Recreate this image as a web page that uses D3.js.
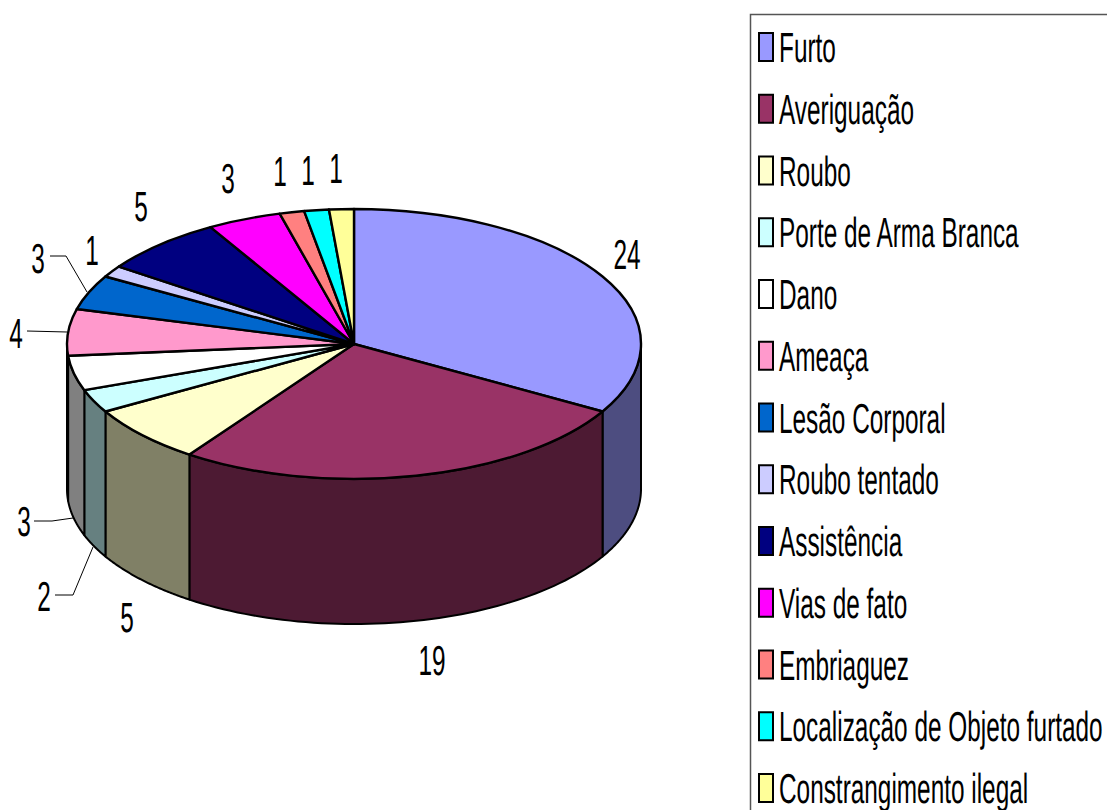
<!DOCTYPE html>
<html><head><meta charset="utf-8">
<script src="https://cdn.jsdelivr.net/npm/d3@7"></script>
<style>html,body{margin:0;padding:0;background:#fff;overflow:hidden}svg{display:block}
text{font-family:"Liberation Sans",Arial,sans-serif;font-size:42px;fill:#000;text-rendering:geometricPrecision}</style></head>
<body><svg id="c" width="1107" height="810"></svg>
<script>
const categories = ["Furto","Averiguação","Roubo","Porte de Arma Branca","Dano","Ameaça","Lesão Corporal","Roubo tentado","Assistência","Vias de fato","Embriaguez","Localização de Objeto furtado","Constrangimento ilegal"];
const values = [24,19,5,2,3,4,3,1,5,3,1,1,1];
const colors = ["#9999ff","#993366","#ffffcc","#ccffff","#ffffff","#ff99cc","#0066cc","#ccccff","#000080","#ff00ff","#ff8080","#00ffff","#ffff99"];
// layout only (label centres and leader lines, in page pixels)
const labelCentres = [[627,254],[432,660],[127,617],[44,596],[24,521],[16,333],[38,258],[92,250],[141,206],[228,178],[280,171],[308,170],[336,168]];
const leaders = [[[50,256],[66,256],[87,292]],[[27,331],[67,332]],[[34,521],[52,521],[73,518]],[[55,595],[73,595],[93,547]]];

const cx=354, cy=344, rx=287, ry=135, depth=145, sx=0.58;
const svg=d3.select("#c");
const color=d3.scaleOrdinal(categories,colors);
const pie=d3.pie().sort(null).value(d=>d.v)(categories.map((c,i)=>({c,v:values[i]})));
const PI=Math.PI;
const px=a=>cx+rx*Math.sin(a), py=a=>cy-ry*Math.cos(a);
const shade=c=>{const q=d3.rgb(c);return d3.rgb(q.r*.5,q.g*.5,q.b*.5).formatHex();};

// side walls (visible half only)
const wallG=svg.append("g");
pie.forEach(s=>{
  const a0=Math.max(s.startAngle,PI/2), a1=Math.min(s.endAngle,3*PI/2);
  if(a1<=a0) return;
  const ang=d3.range(0,61).map(i=>a0+(a1-a0)*i/60);
  const top=ang.map(a=>[px(a),py(a)]);
  const bot=ang.slice().reverse().map(a=>[px(a),py(a)+depth]);
  wallG.append("path").attr("d",d3.line()(top.concat(bot))+"Z")
    .attr("fill",shade(color(s.data.c)))
    .attr("stroke","#000").attr("stroke-width",2).attr("stroke-linejoin","round");
});

// top face: unit-aspect arcs squashed into the ellipse
const arc=d3.arc().innerRadius(0).outerRadius(rx);
svg.append("g").attr("transform",`translate(${cx},${cy}) scale(1,${ry/rx})`)
  .selectAll("path").data(pie).join("path")
  .attr("d",arc).attr("fill",d=>color(d.data.c))
  .attr("stroke","#000").attr("stroke-width",2.4).attr("stroke-linejoin","round")
  .attr("vector-effect","non-scaling-stroke");

// leader lines
svg.append("g").selectAll("path").data(leaders).join("path")
  .attr("d",d3.line()).attr("fill","none").attr("stroke","#000").attr("stroke-width",1);

// value labels
svg.append("g").selectAll("text").data(values).join("text")
  .attr("text-anchor","middle")
  .attr("transform",(d,i)=>`translate(${labelCentres[i][0]},${labelCentres[i][1]+15}) scale(${sx},1)`)
  .text(d=>d);

// legend
const legendY=d3.scalePoint().domain(categories).range([47,788]);
svg.append("path").attr("d","M1107,14.5H750.5V810").attr("fill","none").attr("stroke","#555").attr("stroke-width",1.5);
const row=svg.append("g").selectAll("g").data(categories).join("g")
  .attr("transform",d=>`translate(0,${legendY(d)})`);
row.append("rect").attr("x",759).attr("y",-14).attr("width",14).attr("height",28)
  .attr("fill",d=>color(d)).attr("stroke","#000").attr("stroke-width",2);
row.append("text").attr("transform",`translate(779,15) scale(${sx},1)`).text(d=>d);
</script></body></html>
